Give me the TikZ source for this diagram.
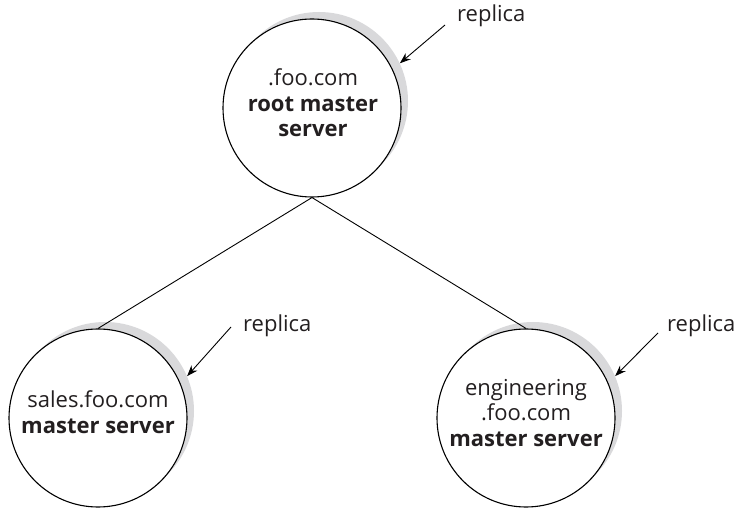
\documentclass[tikz,border=0pt]{standalone}
\usepackage{fontspec}
\setmainfont{Open Sans}
\usetikzlibrary{arrows.meta,calc}

\definecolor{inkgray}{HTML}{231F20}
\definecolor{shadegray}{HTML}{D9D9DB}

\tikzset{
  server/.style={circle, draw=black, line width=1.1pt, fill=white,
    minimum size=178pt, inner sep=0pt},
  servertext/.style={align=center, text=inkgray, inner sep=0pt,
    font=\fontsize{22}{25.5}\selectfont},
  replicashade/.style={circle, fill=shadegray, minimum size=178pt, inner sep=0pt},
  replicalabel/.style={text=inkgray, font=\fontsize{22}{25}\selectfont, inner sep=0pt, anchor=base west},
  pointer/.style={-{Stealth[length=11pt,width=8pt]}, line width=0.9pt},
  link/.style={line width=0.9pt}
}

\begin{document}
\begin{tikzpicture}[x=1pt,y=-1pt]
  \useasboundingbox (0,0) rectangle (739,510);

  % replica shades, slightly up and to the right of each server
  \node[replicashade] (rootsh)  at (319,101) {};
  \node[replicashade] (salessh) at (105,411) {};
  \node[replicashade] (engsh)   at (533,411) {};

  % servers
  \node[server] (root)  at (312,108) {};
  \node[server] (sales) at (98,418)  {};
  \node[server] (eng)   at (526,418) {};

  % server captions
  \node[servertext] (roottxt)  at (313,103) {.foo.com\\\textbf{root master}\\\textbf{server}};
  \node[servertext] (salestxt) at (98,412)  {sales.foo.com\\\textbf{master server}};
  \node[servertext] (engtxt)   at (526,413) {engineering\\.foo.com\\\textbf{master server}};

  % hierarchy links
  \draw[link] (root.south) -- (sales.north);
  \draw[link] (root.south) -- (eng.north);

  % replica labels and pointers
  \node[replicalabel] (rootlab)  at (457,22)  {replica};
  \node[replicalabel] (saleslab) at (243,332) {replica};
  \node[replicalabel] (englab)   at (667,332) {replica};

  \coordinate (roottail)  at (445,25);
  \coordinate (salestail) at (231,327);
  \coordinate (engtail)   at (658,333);

  \draw[pointer] (roottail)  -- (rootsh.25);
  \draw[pointer] (salestail) -- (salessh.23);
  \draw[pointer] (engtail)   -- (engsh.23);
\end{tikzpicture}
\end{document}
